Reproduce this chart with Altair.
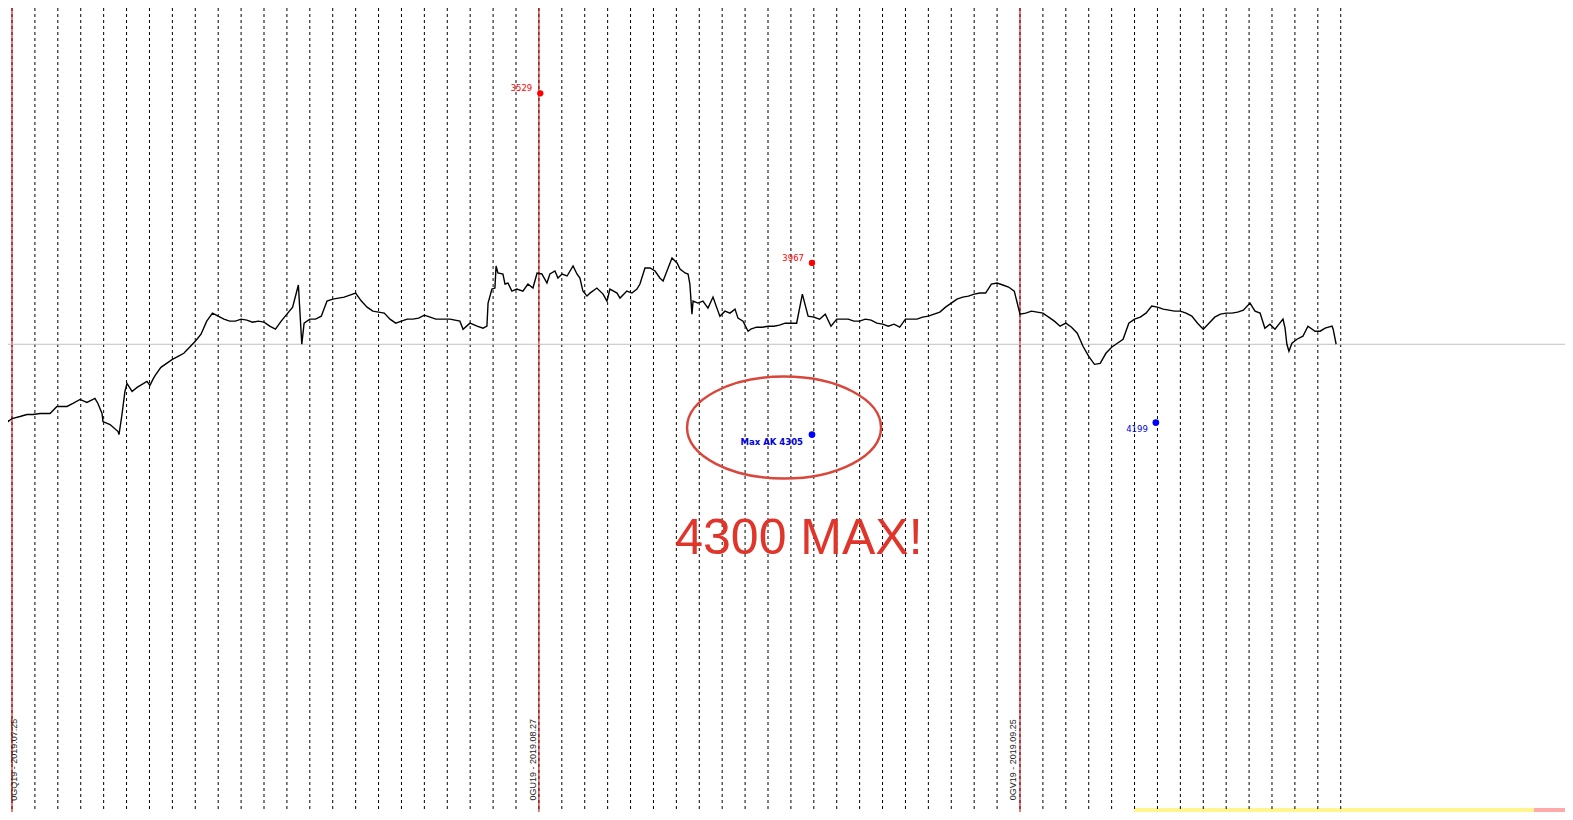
import altair as alt
import pandas as pd

# ---------------- data ----------------
# price trace: time in trading days since 2019-07-25 session, level on the terminal's inverted price scale
price_days = [
    -0.52, -0.41, -0.31, -0.17, 0.00, 0.35, 0.65, 0.92, 1.22, 1.66, 1.96, 2.40, 2.66, 2.97,
    3.27, 3.62, 3.75, 3.93, 3.97, 4.28, 4.63, 4.67, 4.80, 4.93, 5.02, 5.24, 5.46, 5.89, 6.02, 6.15,
    6.25, 6.50, 6.75, 7.00, 7.25, 7.50, 7.75, 8.00, 8.25, 8.50, 8.75,
    9.00, 9.25, 9.50, 9.75, 10.00, 10.25, 10.50, 10.75, 11.00, 11.25, 11.50, 11.75,
    12.00, 12.25, 12.50, 12.65, 12.75, 13.00, 13.25, 13.50, 13.75, 14.00, 14.25, 14.50, 14.75,
    15.00, 15.25, 15.50, 15.75, 16.00, 16.25, 16.50, 16.75, 17.00, 17.25, 17.50, 17.75,
    18.00, 18.25, 18.50, 18.75, 19.00,
    19.12, 19.55, 19.69, 19.99, 20.30, 20.56, 20.73, 20.78, 20.95, 21.08, 21.13, 21.21, 21.43,
    21.52, 21.65, 21.82, 22.04, 22.30, 22.52, 22.74, 22.92, 23.13, 23.35, 23.48, 23.70, 23.83,
    24.01, 24.23, 24.49, 24.66, 24.79, 24.92, 25.10, 25.23, 25.53, 25.80, 25.97, 26.10, 26.41,
    26.54, 26.84, 27.06, 27.28, 27.41, 27.63, 27.85, 28.07, 28.28, 28.42, 28.64, 28.81, 29.03,
    29.16, 29.38, 29.51, 29.59, 29.68, 29.73, 29.94, 30.16, 30.38, 30.60, 30.77, 30.90, 31.12,
    31.34, 31.56, 31.69, 31.91, 32.13,
    32.25, 32.50, 32.75, 33.00, 33.25, 33.50, 33.75, 34.00, 34.25, 34.50, 34.75,
    35.00, 35.25, 35.50, 35.75, 36.00, 36.25, 36.50, 36.75, 37.00, 37.25, 37.50, 37.75,
    38.00, 38.25, 38.50, 38.75, 39.00, 39.25, 39.50, 39.75, 40.00, 40.25, 40.50, 40.75,
    41.00, 41.25, 41.50, 41.75, 42.00, 42.25, 42.50, 42.75, 43.00, 43.25, 43.50, 43.75,
    44.00, 44.25, 44.50, 44.75, 45.00, 45.25, 45.50, 45.75, 46.00, 46.25, 46.50, 46.75,
    47.00, 47.25, 47.50, 47.75, 48.00, 48.25, 48.50, 48.75, 49.00, 49.25, 49.50, 49.75,
    50.00, 50.25, 50.50, 50.75, 51.00, 51.25, 51.50, 51.75, 52.00, 52.25, 52.50, 52.75,
    53.00, 53.25, 53.50, 53.75,
    54.04, 54.26, 54.48, 54.69, 54.91, 55.13, 55.48, 55.57, 55.65, 55.74, 55.87, 56.09,
    56.35, 56.57, 56.88, 57.10, 57.32, 57.62, 57.67, 57.80,
]
price_levels = [
    403, 405, 413, 420, 417, 415, 413, 413, 412, 412, 405, 405, 402, 398,
    401, 397, 402, 412, 420, 423, 430, 433, 413, 390, 382, 390, 386, 380, 384, 378,
    374, 366, 362, 358, 355, 352, 346, 340, 333, 320, 312,
    315, 318, 320, 320, 318, 319, 321, 320, 321, 325, 328, 320,
    313, 306, 284, 343, 322, 318, 318, 315, 300, 298, 297, 296, 294,
    292, 300, 306, 310, 311, 312, 318, 322, 320, 318, 318, 317,
    314, 316, 318, 318, 318,
    318, 320, 328, 322, 325, 327, 325, 302, 288, 287, 265, 272, 273,
    283, 282, 290, 288, 290, 283, 287, 272, 273, 282, 273, 270, 277,
    273, 275, 265, 273, 277, 290, 295, 292, 287, 293, 300, 288, 292,
    297, 290, 292, 288, 283, 267, 267, 270, 277, 280, 267, 257, 262,
    268, 272, 273, 283, 313, 300, 302, 300, 307, 296, 307, 315, 310,
    312, 308, 317, 320, 330,
    328, 326, 326, 325, 325, 324, 322, 322, 322, 293, 315,
    316, 318, 313, 325, 318, 318, 318, 320, 320, 318, 319, 322,
    323, 325, 323, 326, 318, 318, 318, 316, 315, 313, 311, 306,
    302, 298, 296, 295, 293, 292, 292, 283, 282, 284, 286, 290,
    313, 312, 310, 311, 312, 316, 320, 325, 322, 326, 332, 345,
    355, 363, 362, 352, 346, 342, 338, 322, 318, 316, 312, 305,
    306, 308, 309, 310, 310, 312, 315, 322, 328, 322, 316, 313,
    312, 312, 311, 309,
    302, 310, 312, 327, 323, 328, 318, 327, 343, 350, 342, 338,
    335, 325, 330, 330, 327, 325, 328, 343,
]

day_separators = list(range(0, 59))
contract_days = [0, 23, 44]
contract_labels = ["0GQ19 - 2019.07.25", "0GU19 - 2019.08.27", "0GV19 - 2019.09.25"]
contract_label_days = [0.07, 22.74, 43.69]
contract_label_level = 757

current_level = 343

red_point_days = [23.06, 34.92]
red_point_levels = [93, 262]
red_point_labels = ["3529", "3967"]

blue_point_days = [34.92, 49.93]
blue_point_levels = [433, 421]
blue_point_labels = ["Max AK 4305", "4199"]

ellipse_day = [33.70]
ellipse_level = [426]

big_text = ["4300 MAX!"]
big_text_day = [34.35]
big_text_level = [537]

status_starts = [48.97, 66.43]
status_ends = [66.43, 67.79]
status_colors = ["#fff68f", "#ffaaaa"]

X_DOMAIN = [-0.175, 67.79]
Y_DOMAIN = [8, 809]

# ---------------- frames ----------------
price_df = pd.DataFrame({"day": price_days, "level": price_levels})
sep_df = pd.DataFrame({"day": day_separators})
contract_df = pd.DataFrame({"day": contract_days})
clabel_df = pd.DataFrame({"day": contract_label_days, "label": contract_labels,
                          "level": [contract_label_level] * 3})
red_df = pd.DataFrame({"day": red_point_days, "level": red_point_levels, "label": red_point_labels})
blue_df = pd.DataFrame({"day": blue_point_days, "level": blue_point_levels, "label": blue_point_labels})
ell_df = pd.DataFrame({"day": ellipse_day, "level": ellipse_level})
big_df = pd.DataFrame({"day": big_text_day, "level": big_text_level, "t": big_text})
status_df = pd.DataFrame({"x1": status_starts, "x2": status_ends, "c": status_colors,
                          "y1": [805, 805], "y2": [820, 820]})
cur_df = pd.DataFrame({"level": [current_level]})

xs = alt.Scale(domain=X_DOMAIN, nice=False, zero=False)
ys = alt.Scale(domain=Y_DOMAIN, nice=False, zero=False, reverse=True)


def X(f="day"):
    return alt.X(f"{f}:Q", scale=xs, axis=None)


def Y(f="level"):
    return alt.Y(f"{f}:Q", scale=ys, axis=None)


status = alt.Chart(status_df).mark_rect(clip=True).encode(
    x=alt.X("x1:Q", scale=xs, axis=None), x2="x2:Q",
    y=alt.Y("y1:Q", scale=ys, axis=None), y2="y2:Q",
    color=alt.Color("c:N", scale=None),
)

seps = alt.Chart(sep_df).mark_rule(color="#000000", strokeWidth=1, strokeDash=[3, 3]).encode(x=X())
contracts = alt.Chart(contract_df).mark_rule(color="#c00000", strokeWidth=1).encode(x=X())
cur = alt.Chart(cur_df).mark_rule(color="#c0c0c0", strokeWidth=1).encode(y=Y())

clabels = alt.Chart(clabel_df).mark_text(
    angle=270, align="center", baseline="middle", font="Liberation Sans", fontSize=9, color="#222222"
).encode(x=X(), y=Y(), text="label:N")

line = alt.Chart(price_df).mark_line(color="#000000", strokeWidth=1.4, clip=True).encode(
    x=X(), y=Y(), order="day:Q"
)

red_pts = alt.Chart(red_df).mark_circle(color="#ff0000", size=40, opacity=1).encode(x=X(), y=Y())
red_txt = alt.Chart(red_df).mark_text(
    align="right", baseline="middle", dx=-8, dy=-5, font="DejaVu Sans", fontSize=8.5, color="#ff0000"
).encode(x=X(), y=Y(), text="label:N")

blue_pts = alt.Chart(blue_df).mark_circle(color="#0000ff", size=45, opacity=1).encode(x=X(), y=Y())
blue_txt = alt.Chart(blue_df.iloc[[0]]).mark_text(
    align="right", baseline="middle", dx=-9, dy=7, font="DejaVu Sans", fontSize=8.5,
    fontWeight="bold", color="#0000dd"
).encode(x=X(), y=Y(), text="label:N")
blue_txt2 = alt.Chart(blue_df.iloc[[1]]).mark_text(
    align="right", baseline="middle", dx=-8, dy=6, font="DejaVu Sans", fontSize=8.5, color="#0000dd"
).encode(x=X(), y=Y(), text="label:N")

ellipse_shape = "M -1 0 A 1 0.526 0 1 1 1 0 A 1 0.526 0 1 1 -1 0 Z"
ell = alt.Chart(ell_df).mark_point(
    shape=ellipse_shape, size=194 * 194, filled=False, stroke="#d9463b", strokeWidth=2.5, opacity=1
).encode(x=X(), y=Y())

big = alt.Chart(big_df).mark_text(
    align="center", baseline="middle", font="Liberation Sans", fontSize=50, color="#e0352b"
).encode(x=X(), y=Y(), text="t:N")

chart = alt.layer(
    status, seps, contracts, cur, clabels, line, ell, red_pts, red_txt, blue_pts, blue_txt, blue_txt2, big
).properties(
    width=1557, height=804, padding=0,
    autosize=alt.AutoSizeParams(type="none"),
    background="#ffffff",
).configure_view(stroke=None)

chart.save("out.html", embed_options={"renderer": "svg", "actions": False})
